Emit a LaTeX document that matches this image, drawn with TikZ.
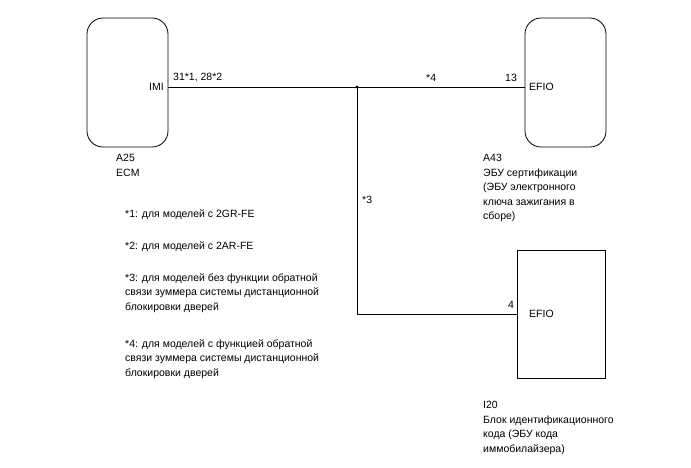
\documentclass[tikz,border=0pt]{standalone}
\usepackage{fontspec}
\setmainfont{Liberation Sans}
\begin{document}
\begin{tikzpicture}[x=1pt,y=-1pt,
  box/.style={draw,line width=0.8pt},
  lbl/.style={font=\fontsize{10.5}{14.5}\selectfont,inner sep=0pt},
  wire/.style={line width=0.6pt}]
\useasboundingbox (0,0) rectangle (691,467);
\draw[box,rounded corners=16pt] (87,18) rectangle (168,147);
\draw[box,rounded corners=16pt] (525,18) rectangle (606,147);
\draw[box] (517,250) rectangle (605,378);
\coordinate (ecm) at (168,87);
\coordinate (efio1) at (525,87);
\coordinate (j) at (357,87);
\coordinate (c) at (357,314);
\coordinate (efio2) at (517,314);
\draw[wire] (ecm) -- (efio1);
\draw[wire] (j) -- (c) -- (efio2);
\fill (j) circle (1.6pt);
\node[lbl,anchor=east] (imi) at (164,87) {IMI};
\node[lbl,anchor=west] (e1) at (529,87) {EFIO};
\node[lbl,anchor=west] (e2) at (529,314) {EFIO};
\node[lbl,anchor=south west] (p1) at (173,82) {31*1, 28*2};
\node[lbl,anchor=south west] (s4) at (426,82) {*4};
\node[lbl,anchor=south west] (p13) at (505,82) {13};
\node[lbl,anchor=south west] (p4) at (508,309) {4};
\node[lbl,anchor=west] (s3) at (362,200) {*3};
\node[lbl,anchor=north west,align=left] (a25) at (116,154) {A25\\ECM};
\node[lbl,anchor=north west,align=left] (a43) at (483,154) {A43\\ЭБУ сертификации\\(ЭБУ электронного\\ключа зажигания в\\сборе)};
\node[lbl,anchor=north west,align=left] (i20) at (483,401) {I20\\Блок идентификационного\\кода (ЭБУ кода\\иммобилайзера)};
\node[lbl,anchor=north west,align=left] (n1) at (125,209) {*1: для моделей с 2GR-FE};
\node[lbl,anchor=north west,align=left] (n2) at (125,241) {*2: для моделей с 2AR-FE};
\node[lbl,anchor=north west,align=left] (n3) at (125,273) {*3: для моделей без функции обратной\\связи зуммера системы дистанционной\\блокировки дверей};
\node[lbl,anchor=north west,align=left] (n4) at (125,339) {*4: для моделей с функцией обратной\\связи зуммера системы дистанционной\\блокировки дверей};
\end{tikzpicture}
\end{document}
